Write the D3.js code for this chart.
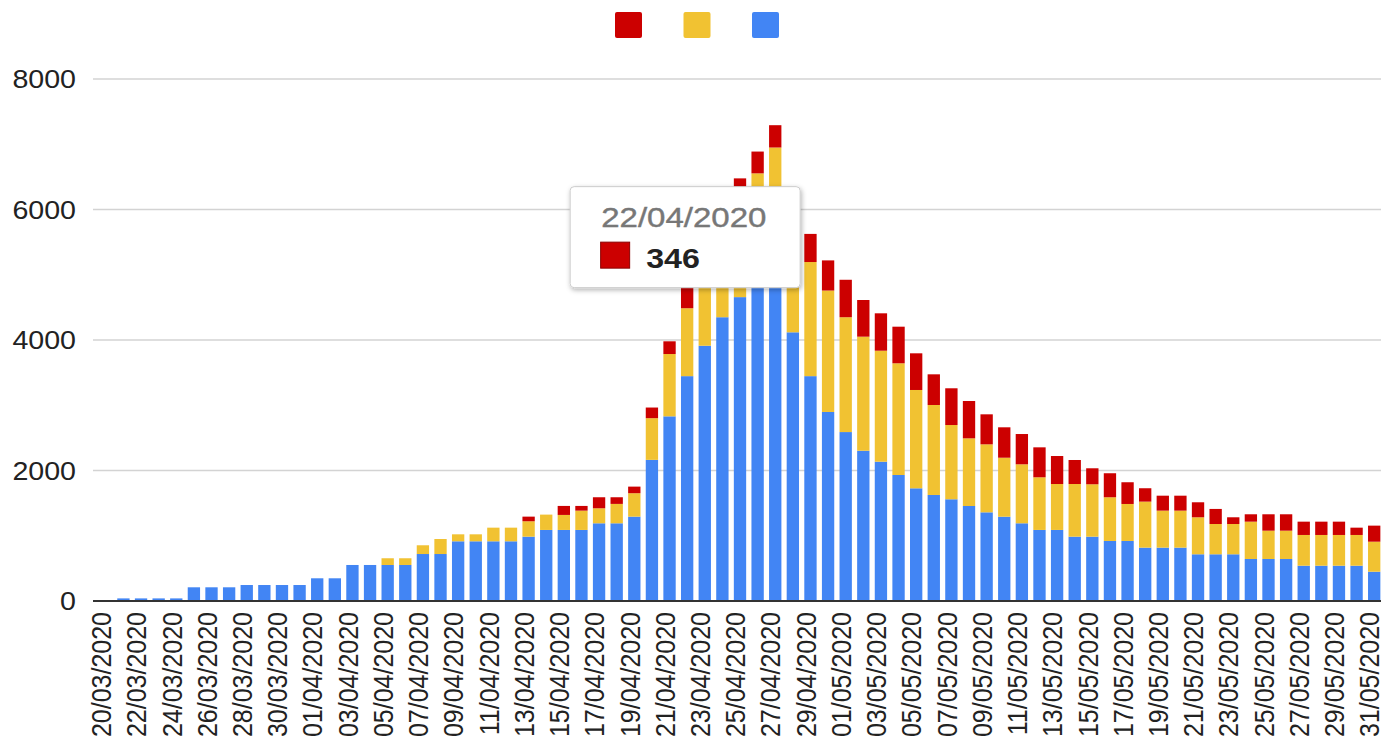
<!DOCTYPE html>
<html>
<head>
<meta charset="utf-8">
<script src="https://cdn.jsdelivr.net/npm/d3@7"></script>
<style>
  html, body { margin: 0; padding: 0; background: #fff; }
  svg { display: block; font-family: "Liberation Sans", Arial, sans-serif; }
</style>
</head>
<body>
<svg id="chart" width="1381" height="746"></svg>
<script>
// categories (one bar per day)
const dates = [
  '20/03/2020', '21/03/2020', '22/03/2020', '23/03/2020', '24/03/2020', '25/03/2020',
  '26/03/2020', '27/03/2020', '28/03/2020', '29/03/2020', '30/03/2020', '31/03/2020',
  '01/04/2020', '02/04/2020', '03/04/2020', '04/04/2020', '05/04/2020', '06/04/2020',
  '07/04/2020', '08/04/2020', '09/04/2020', '10/04/2020', '11/04/2020', '12/04/2020',
  '13/04/2020', '14/04/2020', '15/04/2020', '16/04/2020', '17/04/2020', '18/04/2020',
  '19/04/2020', '20/04/2020', '21/04/2020', '22/04/2020', '23/04/2020', '24/04/2020',
  '25/04/2020', '26/04/2020', '27/04/2020', '28/04/2020', '29/04/2020', '30/04/2020',
  '01/05/2020', '02/05/2020', '03/05/2020', '04/05/2020', '05/05/2020', '06/05/2020',
  '07/05/2020', '08/05/2020', '09/05/2020', '10/05/2020', '11/05/2020', '12/05/2020',
  '13/05/2020', '14/05/2020', '15/05/2020', '16/05/2020', '17/05/2020', '18/05/2020',
  '19/05/2020', '20/05/2020', '21/05/2020', '22/05/2020', '23/05/2020', '24/05/2020',
  '25/05/2020', '26/05/2020', '27/05/2020', '28/05/2020', '29/05/2020', '30/05/2020',
  '31/05/2020'
]

// series values (bottom -> top of the stack)
const blue = [
  0, 40, 40, 40, 40, 210, 210, 210, 245, 245, 245, 245,
  348, 348, 552, 552, 552, 552, 720, 720, 915, 915, 915, 915,
  986, 1089, 1089, 1089, 1191, 1191, 1293, 2163, 2830, 3446, 3912, 4349,
  4657, 5000, 5250, 4118, 3446, 2897,
  2589, 2303, 2135, 1931, 1727, 1625, 1559, 1456, 1359, 1292, 1191, 1089,
  1089, 986, 986, 920, 920, 818, 818, 818, 716, 716, 716, 644,
  644, 644, 541, 541, 541, 541, 449
]
const yellow = [
  0, 0, 0, 0, 0, 0, 0, 0, 0, 0, 0, 0,
  0, 0, 0, 0, 103, 103, 134, 230, 107, 107, 209, 209,
  236, 235, 230, 296, 230, 297, 359, 639, 955, 1041, 1150, 1250,
  1493, 1554, 1700, 1750, 1749, 1861,
  1760, 1748, 1701, 1712, 1507, 1379, 1138, 1037, 1042, 904, 904, 807,
  704, 807, 803, 670, 567, 705, 567, 567, 567, 464, 464, 572,
  434, 434, 471, 471, 471, 471, 460
]
const red = [
  0, 0, 0, 0, 0, 0, 0, 0, 0, 0, 0, 0,
  0, 0, 0, 0, 0, 0, 0, 0, 0, 0, 0, 0,
  71, 0, 138, 72, 169, 102, 101, 163, 195, 346, 340, 380,
  327, 334, 342, 400, 431, 462,
  574, 562, 573, 561, 562, 470, 563, 572, 460, 466, 464, 459,
  429, 368, 245, 368, 333, 205, 229, 229, 230, 231, 103, 113,
  251, 251, 204, 204, 204, 112, 246
]

const yTicks = [0, 2000, 4000, 6000, 8000]
const tooltipDate = '22/04/2020'

const seriesKeys = ['blue', 'yellow', 'red']
const colors = { blue: '#4285f4', yellow: '#f1c232', red: '#cc0000' }
const legendOrder = ['red', 'yellow', 'blue']

const rows = dates.map((d, i) => ({ date: d, blue: blue[i], yellow: yellow[i], red: red[i] }))

const svg = d3.select('#chart')
const plotLeft = 93
const plotRight = 1381

const x = d3.scaleBand()
  .domain(dates)
  .range([97, 1383])
  .paddingInner(0.3)
  .paddingOuter(0.15)

const y = d3.scaleLinear()
  .domain([0, 8000])
  .range([601, 79])

/* ------- gridlines + y labels ------- */
const grid = svg.append('g')
grid.selectAll('line')
  .data(yTicks.filter((t) => t > 0))
  .enter()
  .append('line')
  .attr('x1', plotLeft)
  .attr('x2', plotRight)
  .attr('y1', (d) => y(d))
  .attr('y2', (d) => y(d))
  .style('stroke', '#d3d3d3')
  .style('stroke-width', 1.6)

svg.append('g').selectAll('text')
  .data(yTicks)
  .enter()
  .append('text')
  .attr('transform', (d) => `translate(76,${y(d)}) scale(1.1,1)`)
  .attr('dy', '0.36em')
  .attr('text-anchor', 'end')
  .style('font-size', '26px')
  .style('fill', '#222')
  .text((d) => d)

/* ------- stacked bars ------- */
const stacked = d3.stack().keys(seriesKeys)(rows)

svg.append('g')
  .selectAll('g')
  .data(stacked)
  .enter()
  .append('g')
  .style('fill', (s) => colors[s.key])
  .selectAll('rect')
  .data((s) => s.filter((d) => d[1] > d[0]))
  .enter()
  .append('rect')
  .attr('x', (d) => x(d.data.date))
  .attr('width', x.bandwidth())
  .attr('y', (d) => y(d[1]))
  .attr('height', (d) => y(d[0]) - y(d[1]))

// baseline
svg.append('line')
  .attr('x1', plotLeft)
  .attr('x2', plotRight)
  .attr('y1', y(0))
  .attr('y2', y(0))
  .style('stroke', '#333')
  .style('stroke-width', 2)

/* ------- x labels (every other day) ------- */
svg.append('g').selectAll('text')
  .data(dates.filter((d, i) => i % 2 === 0))
  .enter()
  .append('text')
  .attr('transform', (d) => `translate(${x(d) + x.bandwidth() / 2 - 4.5},612) rotate(-90) scale(1,1.08)`)
  .attr('dy', '0.36em')
  .attr('text-anchor', 'end')
  .style('font-size', '25px')
  .style('fill', '#222')
  .text((d) => d)

/* ------- legend (no labels) ------- */
svg.append('g').selectAll('rect')
  .data(legendOrder)
  .enter()
  .append('rect')
  .attr('x', (d, i) => 615 + i * 68.5)
  .attr('y', 12)
  .attr('width', 27)
  .attr('height', 26)
  .attr('rx', 2)
  .style('fill', (d) => colors[d])

/* ------- tooltip ------- */
const defs = svg.append('defs')
const shadow = defs.append('filter')
  .attr('id', 'shadow')
  .attr('x', '-20%').attr('y', '-20%')
  .attr('width', '140%').attr('height', '150%')
shadow.append('feDropShadow')
  .attr('dx', 1).attr('dy', 2)
  .attr('stdDeviation', 2.5)
  .attr('flood-color', '#000')
  .attr('flood-opacity', 0.3)

const tipRow = rows[dates.indexOf(tooltipDate)]
const tipTotal = tipRow.blue + tipRow.yellow + tipRow.red
const tipX = x(tooltipDate) + x.bandwidth() / 2 - 117
const tipY = y(tipTotal) - 99

const tip = svg.append('g')
  .attr('transform', `translate(${tipX},${tipY})`)

tip.append('rect')
  .attr('width', 230)
  .attr('height', 101)
  .attr('rx', 4)
  .style('fill', '#fff')
  .style('stroke', '#cccccc')
  .style('stroke-width', 1)
  .attr('filter', 'url(#shadow)')

tip.append('text')
  .attr('transform', 'translate(31,40) scale(1.18,1)')
  .style('font-size', '28px')
  .style('fill', '#777')
  .style('stroke', '#777')
  .style('stroke-width', 0.4)
  .text(tooltipDate)

tip.append('rect')
  .attr('x', 30.5)
  .attr('y', 55.5)
  .attr('width', 29)
  .attr('height', 26)
  .style('fill', colors.red)
  .style('stroke', '#8a0000')
  .style('stroke-width', 1)

tip.append('text')
  .attr('transform', 'translate(76,81) scale(1.15,1)')
  .style('font-size', '28px')
  .style('font-weight', 'bold')
  .style('fill', '#222')
  .text(tipRow.red)
</script>
</body>
</html>
